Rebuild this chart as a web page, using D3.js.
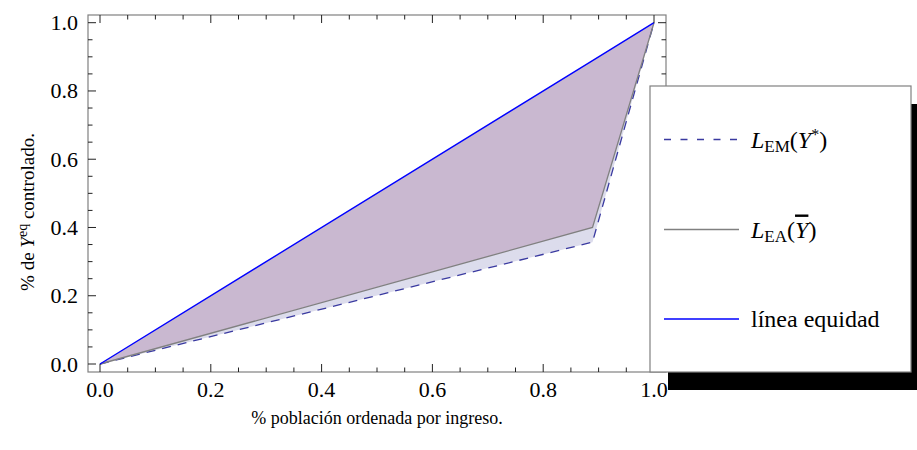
<!DOCTYPE html>
<html><head><meta charset="utf-8">
<script src="https://cdn.jsdelivr.net/npm/d3@7"></script>
<style>body{margin:0;background:#fff}svg{display:block}</style>
</head><body><svg id="c" width="917" height="450"></svg>
<script>
const popShare = [0, 0.889, 1];
const emValues = [0, 0.357, 1];   // L_EM(Y*)
const eaValues = [0, 0.40, 1];    // L_EA(Ybar)
const eqValues = [0, 0.889, 1];   // línea equidad
const majorTicks = [0, 0.2, 0.4, 0.6, 0.8, 1.0];
const minorTicks = d3.range(0, 1.0001, 0.05);
const legendLabels = ["L_EM(Y*)", "L_EA(Ybar)", "línea equidad"];
const FONT = "Liberation Serif";

const svg = d3.select("#c");
const x = d3.scaleLinear().domain([0, 1]).range([100, 654]);
const y = d3.scaleLinear().domain([0, 1]).range([364, 22.7]);
const fx0 = 88, fx1 = 666, fy0 = 15, fy1 = 372;

const em = popShare.map((p, i) => [p, emValues[i]]);
const ea = popShare.map((p, i) => [p, eaValues[i]]);
const eq = popShare.map((p, i) => [p, eqValues[i]]);

const area = d3.area().x(d => x(d[0])).y0(d => y(d[1])).y1(d => y(d[2]));
svg.append("path").datum(popShare.map((p, i) => [p, emValues[i], eaValues[i]]))
  .attr("d", area).attr("fill", "#dcdcec");
svg.append("path").datum(popShare.map((p, i) => [p, eaValues[i], eqValues[i]]))
  .attr("d", area).attr("fill", "#c9b8d0");

const line = d3.line().x(d => x(d[0])).y(d => y(d[1]));
svg.append("path").datum(em).attr("d", line).attr("fill", "none")
  .attr("stroke", "#3a3aa0").attr("stroke-width", 1.3).attr("stroke-dasharray", "9,7");
svg.append("path").datum(ea).attr("d", line).attr("fill", "none")
  .attr("stroke", "#808080").attr("stroke-width", 1.3);
svg.append("path").datum(eq).attr("d", line).attr("fill", "none")
  .attr("stroke", "#0000ff").attr("stroke-width", 1.4);

svg.append("rect").attr("x", fx0).attr("y", fy0).attr("width", fx1 - fx0).attr("height", fy1 - fy0)
  .attr("fill", "none").attr("stroke", "#808080").attr("stroke-width", 1.2);

const isMajor = v => majorTicks.some(m => Math.abs(m - v) < 1e-6);
const tg = svg.append("g").attr("stroke", "#222").attr("stroke-width", 1);
minorTicks.forEach(v => {
  const L = isMajor(v) ? 8 : 4.5;
  tg.append("line").attr("x1", x(v)).attr("x2", x(v)).attr("y1", fy1).attr("y2", fy1 - L);
  tg.append("line").attr("x1", x(v)).attr("x2", x(v)).attr("y1", fy0).attr("y2", fy0 + L);
  tg.append("line").attr("y1", y(v)).attr("y2", y(v)).attr("x1", fx0).attr("x2", fx0 + L);
  tg.append("line").attr("y1", y(v)).attr("y2", y(v)).attr("x1", fx1).attr("x2", fx1 - L);
});

majorTicks.forEach(v => {
  svg.append("text").attr("font-family", FONT).attr("x", x(v)).attr("y", 397).attr("text-anchor", "middle")
    .attr("font-size", 22).text(d3.format(".1f")(v));
  svg.append("text").attr("font-family", FONT).attr("x", 78).attr("y", y(v) + 7.5).attr("text-anchor", "end")
    .attr("font-size", 22).text(d3.format(".1f")(v));
});

svg.append("text").attr("font-family", FONT).attr("x", 377).attr("y", 424).attr("text-anchor", "middle")
  .attr("font-size", 18).text("% población ordenada por ingreso.");
const yl = svg.append("text").attr("font-family", FONT).attr("transform", "translate(34,212) rotate(-90)")
  .attr("text-anchor", "middle").attr("font-size", 19);
yl.append("tspan").text("% de ");
yl.append("tspan").attr("font-style", "italic").text("Y");
yl.append("tspan").attr("dy", -7).attr("font-size", 14).text("eq");
yl.append("tspan").attr("dy", 7).text(" controlado.");

const lg = svg.append("g");
lg.append("rect").attr("x", 668).attr("y", 104).attr("width", 261).attr("height", 286).attr("fill", "#000");
lg.append("rect").attr("x", 650).attr("y", 86).attr("width", 261).attr("height", 286)
  .attr("fill", "#fff").attr("stroke", "#808080").attr("stroke-width", 1.2);
const items = [
  {yy: 139.5, stroke: "#3a3aa0", dash: "7,9.5"},
  {yy: 229.5, stroke: "#808080", dash: null},
  {yy: 319, stroke: "#0000ff", dash: null}
];
items.forEach((it, i) => {
  lg.append("line").attr("x1", 664).attr("x2", 739).attr("y1", it.yy).attr("y2", it.yy)
    .attr("stroke", it.stroke).attr("stroke-width", 1.3).attr("stroke-dasharray", it.dash);
  const t = lg.append("text").attr("font-family", FONT).attr("x", 751).attr("y", it.yy + 8).attr("font-size", 24);
  if (i === 0) {
    t.append("tspan").attr("font-style", "italic").text("L");
    t.append("tspan").attr("font-size", 17).attr("dy", 4).text("EM");
    t.append("tspan").attr("dy", -4).text("(");
    t.append("tspan").attr("font-style", "italic").text("Y");
    t.append("tspan").attr("font-size", 16).attr("dy", -8).text("*");
    t.append("tspan").attr("dy", 8).text(")");
  } else if (i === 1) {
    t.append("tspan").attr("font-style", "italic").text("L");
    t.append("tspan").attr("font-size", 17).attr("dy", 4).text("EA");
    t.append("tspan").attr("dy", -4).text("(");
    t.append("tspan").attr("font-style", "italic").style("text-decoration", "overline").text("Y");
    t.append("tspan").text(")");
  } else {
    t.text(legendLabels[2]);
  }
});
</script></body></html>
